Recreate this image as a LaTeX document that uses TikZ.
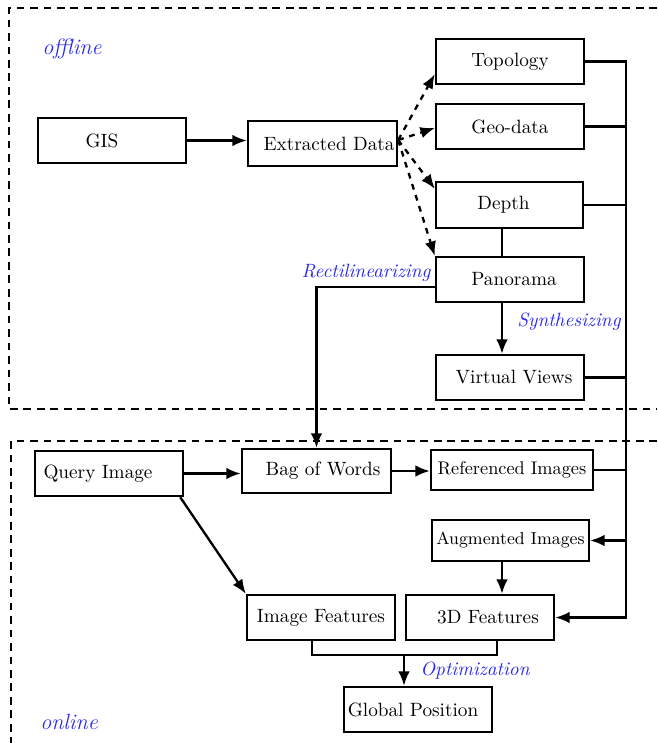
\documentclass[tikz,border=0pt]{standalone}
\usetikzlibrary{arrows.meta,calc}
\definecolor{lblue}{RGB}{40,40,240}
\begin{document}
\begin{tikzpicture}[x=0.52pt,y=-0.52pt,
  box/.style={draw,line width=1.2pt,minimum width=77pt,minimum height=23.4pt,inner sep=0pt,font=\fontsize{10}{12}\selectfont},
  arr/.style={line width=1.2pt,-{Latex[length=7.5pt,width=6pt]}},
  ln/.style={line width=1.2pt},
  dsh/.style={line width=0.8pt,dash pattern=on 4pt off 3pt},
  lbl/.style={text=lblue,font=\fontsize{10}{12}\selectfont\itshape,inner sep=0pt},
  big/.style={text=lblue,font=\fontsize{11.5}{13}\selectfont\itshape,inner sep=0pt}]
\useasboundingbox (0,0) rectangle (657,743);
% group frames
\draw[dsh] (657,8) -- (9,8) -- (9,409) -- (657,409);
\draw[dsh] (657,441) -- (11,441) -- (11,743);
\node[big] (offl) at (72,49) {offline};
\node[big] (onl) at (69,722) {online};
% offline nodes
\node[box] (gis) at (112,140.5) {\hspace*{-10.4pt}GIS};
\node[box,minimum width=77.5pt] (ext) at (322.5,143.5) {Extracted Data\hspace*{-6.8pt}};
\node[box] (topo) at (510,61.5) {Topology};
\node[box] (geo) at (510,126.5) {Geo-data};
\node[box,minimum width=76.4pt,minimum height=23.9pt] (depth) at (509.5,205) {\hspace*{-6.2pt}Depth};
\node[box] (pano) at (510,279.5) {Panorama\hspace*{-4.2pt}};
\node[box] (virt) at (510,377.5) {Virtual Views\hspace*{-4.2pt}};
% online nodes
\node[box] (query) at (109,473.5) {\hspace*{-11.4pt}Query Image};
\node[box,minimum width=77.5pt,minimum height=22.9pt] (bag) at (316.5,471) {Bag of Words\hspace*{-6.8pt}};
\node[box,minimum width=84.2pt,minimum height=20.8pt,font=\fontsize{9.5}{11}\selectfont] (ref) at (512,470) {Referenced Images};
\node[box,minimum width=81.6pt,minimum height=21.3pt,font=\fontsize{9}{11}\selectfont] (aug) at (510.5,540.5) {Augmented Images};
\node[box] (imgf) at (321,617.5) {Image Features};
\node[box] (f3d) at (480,617.5) {3D Features\hspace*{-8.3pt}};
\node[box] (glob) at (418,709.5) {\hspace*{-5.2pt}Global Position};
% connectors offline
\draw[arr] (gis.east) -- (gis.east -| ext.west);
\coordinate (es) at ($(ext.east)+(0,-3.5)$);
\draw[arr,dashed] (es) -- ($(topo.south west)+(0,-11)$);
\draw[arr,dashed] (es) -- ($(geo.west)+(0,1.5)$);
\draw[arr,dashed] (es) -- ($(depth.north west)+(0,8)$);
\draw[arr,dashed] (es) -- (pano.north west);
\draw[ln] ($(depth.south)+(-7.5,0)$) -- ($(pano.north)+(-8,0)$);
\draw[arr] ($(pano.south)+(-8,0)$) -- ($(virt.north)+(-8,0)$);
\node[lbl] (syn) at (569,322) {Synthesizing};
\draw[arr] ($(pano.west)+(0,7.5)$) -| (bag.north);
\node[lbl] (rect) at (366,273) {Rectilinearizing};
% bus
\coordinate (bustop) at (626,61.5);
\coordinate (busbot) at (626,617.5);
\draw[arr] (topo.east) -- (bustop) -- (busbot) -- (f3d.east);
\draw[ln] (geo.east) -- (geo.east -| bustop);
\draw[ln] (depth.east) -- (depth.east -| bustop);
\draw[ln] (virt.east) -- (virt.east -| bustop);
\draw[ln] (ref.east) -- (ref.east -| bustop);
\draw[arr] (aug.east -| bustop) -- (aug.east);
% connectors online
\draw[arr] (query.east) -- (query.east -| bag.west);
\draw[arr] (bag.east) -- (bag.east -| ref.west);
\draw[arr] ($(query.south east)+(-4,0)$) -- (imgf.north west);
\draw[arr] ($(aug.south)+(-8.5,0)$) -- ($(f3d.north)+(22,0)$);
\coordinate (jl) at (312,655);
\coordinate (jr) at (497,655);
\coordinate (jm) at (404,655);
\draw[ln] ($(imgf.south)+(-9,0)$) -- (jl) -- (jr) -- ($(f3d.south)+(17,0)$);
\draw[arr] (jm) -- (jm |- glob.north);
\node[lbl] (opt) at (475,671) {Optimization};
\end{tikzpicture}
\end{document}
